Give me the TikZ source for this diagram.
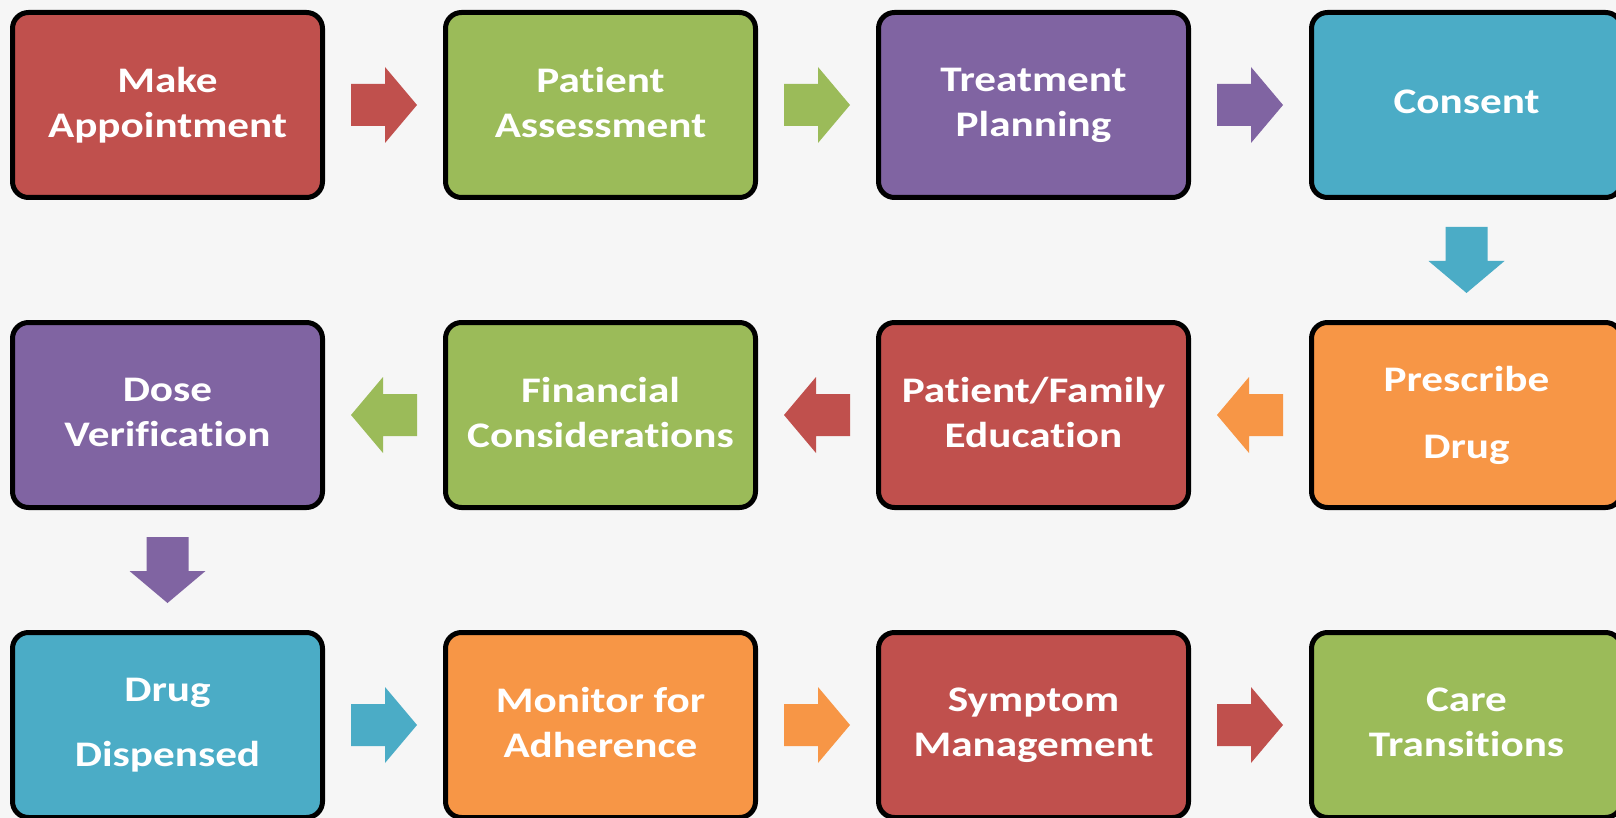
\documentclass[tikz,border=0pt]{standalone}
\usepackage{fontspec}
\setmainfont{Carlito}[FakeStretch=1.2, Ligatures=NoCommon, RawFeature=-liga]
\usetikzlibrary{positioning,calc}

\definecolor{bgpaper}{HTML}{F6F6F6}
\definecolor{cred}{HTML}{C0504D}
\definecolor{cgreen}{HTML}{9BBB59}
\definecolor{cpurple}{HTML}{8064A2}
\definecolor{cblue}{HTML}{4BACC6}
\definecolor{corange}{HTML}{F79646}

\tikzset{
  stepbox/.style={draw=black, line width=2.5pt, rounded corners=8pt,
    minimum width=155pt, minimum height=92.5pt, inner sep=0pt, text depth=3pt,
    align=center, text=white, font=\fontsize{18}{22.5}\selectfont\bfseries},
  blockarrow/.pic={
    \path[pic actions] (-33,-21) -- (1,-21) -- (1,-38) -- (33,0)
      -- (1,38) -- (1,21) -- (-33,21) -- cycle;
  },
}

\begin{document}
\begin{tikzpicture}[x=0.5pt, y=0.5pt, node distance=60pt and 59pt]
  \fill[bgpaper] (0,0) rectangle (1616,-818);
  \useasboundingbox (0,0) rectangle (1616,-818);

  \node[stepbox, fill=cred] (mkappt) at (167.5,-105) {Make\\Appointment};
  \node[stepbox, fill=cgreen, right=of mkappt] (ptassess) {Patient\\Assessment};
  \node[stepbox, fill=cpurple, right=of ptassess] (treatplan) {Treatment\\Planning};
  \node[stepbox, fill=cblue, right=of treatplan] (consent) {Consent};

  \node[stepbox, fill=corange, below=of consent] (prescribe) {Prescribe\\[11pt]Drug};
  \node[stepbox, fill=cred, left=of prescribe] (ptedu) {Patient/Family\\Education};
  \node[stepbox, fill=cgreen, left=of ptedu] (financial) {Financial\\Considerations};
  \node[stepbox, fill=cpurple, left=of financial] (doseverif) {Dose\\Verification};

  \node[stepbox, fill=cblue, below=of doseverif] (dispensed) {Drug\\[10pt]Dispensed};
  \node[stepbox, fill=corange, right=of dispensed] (monitor) {Monitor for\\Adherence};
  \node[stepbox, fill=cred, right=of monitor] (symptom) {Symptom\\Management};
  \node[stepbox, fill=cgreen, right=of symptom] (caretrans) {Care\\Transitions};

  \pic[fill=cred] at ($(mkappt.east)!0.5!(ptassess.west)$) {blockarrow};
  \pic[fill=cgreen] at ($(ptassess.east)!0.5!(treatplan.west)$) {blockarrow};
  \pic[fill=cpurple] at ($(treatplan.east)!0.5!(consent.west)$) {blockarrow};
  \pic[fill=cblue, rotate=-90] at ($(consent.south)!0.5!(prescribe.north)$) {blockarrow};

  \pic[fill=corange, rotate=180] at ($(prescribe.west)!0.5!(ptedu.east)$) {blockarrow};
  \pic[fill=cred, rotate=180] at ($(ptedu.west)!0.5!(financial.east)$) {blockarrow};
  \pic[fill=cgreen, rotate=180] at ($(financial.west)!0.5!(doseverif.east)$) {blockarrow};
  \pic[fill=cpurple, rotate=-90] at ($(doseverif.south)!0.5!(dispensed.north)$) {blockarrow};

  \pic[fill=cblue] at ($(dispensed.east)!0.5!(monitor.west)$) {blockarrow};
  \pic[fill=corange] at ($(monitor.east)!0.5!(symptom.west)$) {blockarrow};
  \pic[fill=cred] at ($(symptom.east)!0.5!(caretrans.west)$) {blockarrow};
\end{tikzpicture}
\end{document}
